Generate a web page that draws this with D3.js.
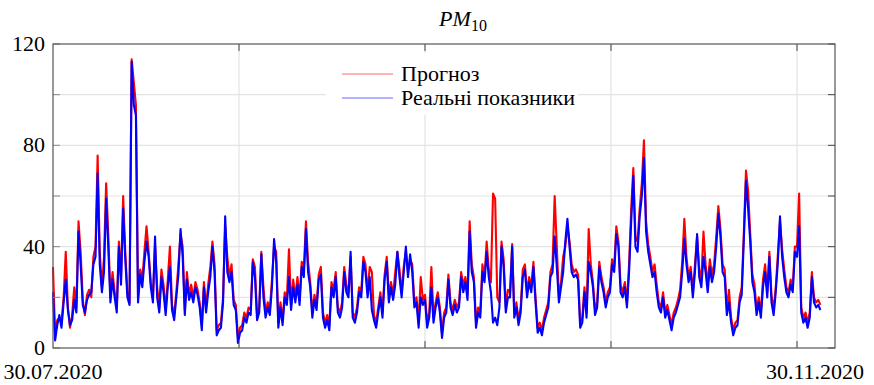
<!DOCTYPE html>
<html>
<head>
<meta charset="utf-8">
<script src="https://cdn.jsdelivr.net/npm/d3@7"></script>
<style>
  html, body { margin: 0; padding: 0; background: #fff; }
  svg { display: block; }
</style>
</head>
<body>
<div id="chart"></div>
<script>
'use strict';

// readings every 8 hours starting 30.07.2020
var HOUR_STEP = 8;

var actual = [
  22, 3, 9, 13, 8, 18, 27, 15, 9, 11,
  19, 14, 46, 33, 17, 14, 19, 21, 22, 33,
  36, 69, 33, 22, 30, 59, 40, 18, 27, 20,
  14, 40, 25, 55, 35, 20, 17, 113, 96, 92,
  18, 29, 24, 34, 42, 36, 24, 18, 44, 20,
  14, 28, 22, 13, 24, 32, 15, 11, 20, 29,
  47, 36, 13, 27, 19, 22, 18, 24, 21, 16,
  7, 24, 14, 22, 28, 40, 30, 5, 7, 8,
  18, 52, 30, 26, 30, 17, 15, 2, 6, 7,
  12, 10, 14, 13, 34, 28, 11, 14, 37, 20,
  12, 16, 13, 24, 43, 34, 8, 16, 9, 20,
  17, 28, 15, 24, 18, 25, 17, 32, 28, 47,
  30, 24, 12, 19, 15, 27, 29, 12, 8, 11,
  7, 24, 20, 28, 14, 12, 16, 30, 22, 20,
  38, 12, 10, 14, 22, 20, 34, 30, 20, 28,
  15, 11, 8, 14, 20, 12, 27, 34, 18, 24,
  19, 25, 38, 28, 20, 30, 40, 28, 37, 30,
  16, 18, 8, 20, 17, 19, 8, 12, 24, 10,
  16, 20, 14, 4, 12, 14, 27, 16, 13, 17,
  14, 16, 28, 22, 26, 19, 46, 30, 26, 8,
  14, 12, 30, 26, 38, 28, 22, 10, 12, 9,
  16, 40, 32, 14, 20, 20, 40, 12, 16, 9,
  14, 28, 31, 20, 26, 22, 32, 18, 6, 8,
  5, 10, 13, 16, 28, 30, 44, 32, 18, 24,
  30, 42, 51, 40, 30, 28, 29, 27, 8, 10,
  22, 12, 34, 30, 24, 13, 16, 32, 26, 22,
  16, 20, 22, 33, 30, 45, 40, 22, 20, 24,
  16, 30, 50, 68, 40, 38, 52, 60, 75, 46,
  38, 33, 28, 30, 22, 16, 14, 20, 12, 15,
  11, 7, 12, 14, 17, 20, 30, 43, 33, 26,
  30, 20, 30, 45, 28, 24, 36, 30, 22, 32,
  26, 30, 40, 53, 44, 30, 28, 13, 18, 10,
  5, 8, 9, 18, 21, 43, 66, 55, 42, 26,
  22, 13, 18, 12, 24, 30, 20, 36, 18, 13,
  22, 34, 52, 36, 28, 22, 20, 25, 22, 38,
  36, 48, 14, 10, 12, 8, 12, 28, 18, 16,
  17, 15
];

var forecast = [
  32, 5, 11, 12, 10, 20, 38, 16, 8, 13,
  24, 16, 50, 38, 19, 13, 21, 23, 20, 36,
  40, 76, 38, 24, 36, 65, 45, 20, 30, 22,
  16, 42, 28, 60, 38, 22, 18, 114, 105, 96,
  20, 31, 27, 38, 48, 38, 26, 20, 40, 24,
  16, 31, 25, 15, 27, 40, 17, 13, 22, 33,
  45, 40, 15, 30, 21, 25, 20, 26, 23, 18,
  9, 26, 16, 25, 32, 42, 33, 7, 9, 10,
  20, 48, 36, 28, 33, 19, 17, 4, 8, 9,
  14, 12, 16, 15, 35, 32, 13, 16, 38, 24,
  14, 18, 15, 27, 40, 38, 10, 18, 11, 22,
  19, 39, 17, 27, 20, 28, 19, 34, 31, 50,
  34, 26, 14, 21, 17, 29, 32, 14, 10, 13,
  9, 26, 23, 30, 16, 14, 18, 32, 25, 22,
  36, 14, 12, 16, 24, 22, 36, 33, 22, 32,
  30, 13, 10, 16, 22, 14, 29, 36, 21, 26,
  21, 30, 38, 31, 22, 32, 38, 30, 35, 33,
  18, 20, 10, 28, 19, 21, 10, 14, 32, 12,
  18, 22, 16, 6, 14, 16, 29, 18, 15, 19,
  16, 18, 30, 25, 28, 21, 50, 33, 28, 10,
  16, 14, 33, 28, 42, 31, 26, 61, 59, 20,
  18, 42, 35, 16, 23, 22, 41, 14, 18, 11,
  16, 31, 33, 22, 28, 24, 34, 20, 8, 10,
  7, 12, 15, 18, 30, 33, 60, 40, 20, 26,
  36, 40, 48, 42, 33, 30, 31, 29, 10, 12,
  24, 14, 47, 33, 26, 15, 18, 34, 28, 24,
  18, 22, 24, 35, 32, 48, 42, 25, 22, 26,
  18, 33, 55, 71, 44, 42, 55, 65, 82, 50,
  41, 36, 30, 33, 25, 18, 16, 22, 14, 17,
  13, 9, 14, 16, 19, 23, 34, 51, 36, 28,
  32, 22, 33, 44, 31, 27, 46, 33, 25, 35,
  29, 33, 44, 56, 47, 33, 31, 15, 23, 12,
  7, 10, 11, 20, 24, 46, 70, 62, 45, 29,
  25, 15, 20, 14, 27, 33, 22, 38, 21, 15,
  24, 37, 50, 39, 31, 24, 22, 27, 24, 40,
  40, 61, 16, 12, 14, 10, 14, 30, 20, 18,
  19, 17
];

var xMax = 2943;
var xTicks = [700, 1400, 2100, 2800];
var yTicks = [0, 20, 40, 60, 80, 100, 120];
var yLabels = [0, 40, 80, 120];
var dateLabels = ['30.07.2020', '30.11.2020'];
var legendNames = ['Прогноз', 'Реальні показники'];
var seriesColors = ['#ff0000', '#0000ff'];

var width = 874, height = 385;
var margin = { top: 44, right: 39, bottom: 37, left: 53 };
var serif = 'Liberation Serif';

var svg = d3.select('#chart').append('svg')
  .attr('width', width)
  .attr('height', height);

var x = d3.scaleLinear().domain([0, xMax]).range([margin.left, width - margin.right]);
var y = d3.scaleLinear().domain([0, 120]).range([height - margin.bottom, margin.top]);

var x0 = x.range()[0], x1 = x.range()[1];
var y0 = y.range()[0], y1 = y.range()[1];

// grid
svg.append('g')
  .selectAll('line')
  .data(yTicks.slice(1, -1))
  .join('line')
  .attr('x1', x0).attr('x2', x1)
  .attr('y1', function (d) { return y(d); })
  .attr('y2', function (d) { return y(d); })
  .attr('stroke', '#e3e3e3')
  .attr('stroke-width', 1.2);

svg.append('g')
  .selectAll('line')
  .data(xTicks)
  .join('line')
  .attr('x1', function (d) { return x(d); })
  .attr('x2', function (d) { return x(d); })
  .attr('y1', y1).attr('y2', y0)
  .attr('stroke', '#e3e3e3')
  .attr('stroke-width', 1.2);

// series, forecast under actual
var toPoints = function (arr) {
  return arr.map(function (v, i) { return [i * HOUR_STEP, v]; });
};
var line = d3.line()
  .x(function (d) { return x(d[0]); })
  .y(function (d) { return y(d[1]); });

[forecast, actual].forEach(function (arr, k) {
  svg.append('path')
    .datum(toPoints(arr))
    .attr('d', line)
    .attr('fill', 'none')
    .attr('stroke', seriesColors[k])
    .attr('stroke-width', 2.1)
    .attr('stroke-linejoin', 'round');
});

// axes box and ticks
var tickLen = 7;
var axes = svg.append('g');
axes.selectAll('.xt-bottom')
  .data(xTicks)
  .join('line')
  .attr('class', 'xt-bottom')
  .attr('x1', function (d) { return x(d); })
  .attr('x2', function (d) { return x(d); })
  .attr('y1', y0).attr('y2', y0 - tickLen)
  .attr('stroke', '#444');
axes.selectAll('.xt-top')
  .data(xTicks)
  .join('line')
  .attr('class', 'xt-top')
  .attr('x1', function (d) { return x(d); })
  .attr('x2', function (d) { return x(d); })
  .attr('y1', y1).attr('y2', y1 + tickLen)
  .attr('stroke', '#444');
axes.selectAll('.yt-left')
  .data(yTicks)
  .join('line')
  .attr('class', 'yt-left')
  .attr('x1', x0).attr('x2', x0 + tickLen)
  .attr('y1', function (d) { return y(d); })
  .attr('y2', function (d) { return y(d); })
  .attr('stroke', '#888');
axes.selectAll('.yt-right')
  .data(yTicks)
  .join('line')
  .attr('class', 'yt-right')
  .attr('x1', x1).attr('x2', x1 - tickLen)
  .attr('y1', function (d) { return y(d); })
  .attr('y2', function (d) { return y(d); })
  .attr('stroke', '#444');

axes.append('rect')
  .attr('x', x0).attr('y', y1)
  .attr('width', x1 - x0).attr('height', y0 - y1)
  .attr('fill', 'none')
  .attr('stroke', '#555')
  .attr('stroke-width', 1.2);

// y labels
svg.append('g')
  .selectAll('text')
  .data(yLabels)
  .join('text')
  .attr('x', x0 - 8)
  .attr('y', function (d) { return y(d) + 7; })
  .attr('text-anchor', 'end')
  .attr('font-family', serif)
  .attr('font-size', 22)
  .attr('fill', '#000')
  .text(function (d) { return d; });

// date labels at both ends
svg.append('text')
  .attr('x', 53).attr('y', 379)
  .attr('text-anchor', 'middle')
  .attr('font-family', serif)
  .attr('font-size', 22)
  .text(dateLabels[0]);
svg.append('text')
  .attr('x', 815).attr('y', 379)
  .attr('text-anchor', 'middle')
  .attr('font-family', serif)
  .attr('font-size', 22)
  .text(dateLabels[1]);

// title PM10
var title = svg.append('text')
  .attr('x', 463).attr('y', 26)
  .attr('text-anchor', 'middle')
  .attr('font-family', serif)
  .attr('font-size', 22);
title.append('tspan').attr('font-style', 'italic').text('PM');
title.append('tspan').attr('font-size', 16).attr('dy', 5).text('10');

// legend
var legend = svg.append('g');
legend.append('rect')
  .attr('x', 326).attr('y', 53)
  .attr('width', 252).attr('height', 62)
  .attr('fill', '#fff');
legendNames.forEach(function (name, k) {
  var ly = 74 + k * 24;
  legend.append('line')
    .attr('x1', 342).attr('x2', 393)
    .attr('y1', ly).attr('y2', ly)
    .attr('stroke', seriesColors[k])
    .attr('stroke-opacity', 0.6)
    .attr('stroke-width', 1);
  legend.append('text')
    .attr('x', 401).attr('y', ly + 7)
    .attr('font-family', serif)
    .attr('font-size', 22)
    .text(name);
});
</script>
</body>
</html>
